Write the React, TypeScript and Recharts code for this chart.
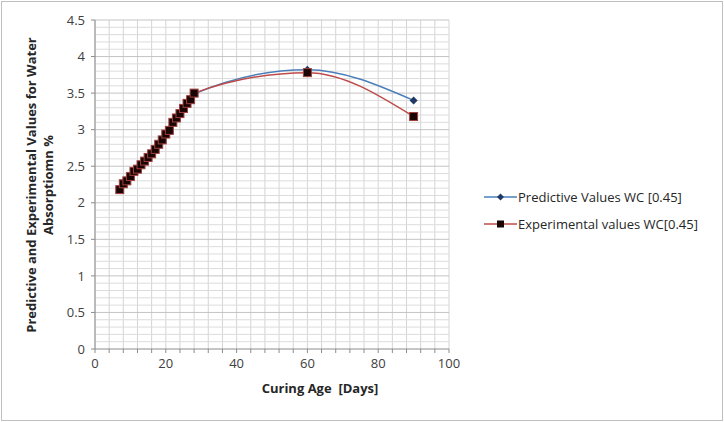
import { LineChart, Line, XAxis, YAxis, CartesianGrid, ReferenceLine, Label } from 'recharts';

const days = [7, 8, 9, 10, 11, 12, 13, 14, 15, 16, 17, 18, 19, 20, 21, 22, 23, 24, 25, 26, 27, 28, 60, 90];
const predictive = [2.18, 2.25, 2.3, 2.36, 2.42, 2.47, 2.52, 2.57, 2.62, 2.68, 2.74, 2.8, 2.86, 2.93, 3.01, 3.09, 3.16, 3.23, 3.3, 3.37, 3.43, 3.49, 3.82, 3.4];
const experimental = [2.18, 2.26, 2.3, 2.36, 2.43, 2.46, 2.52, 2.57, 2.62, 2.67, 2.73, 2.8, 2.86, 2.94, 2.99, 3.1, 3.16, 3.22, 3.29, 3.36, 3.41, 3.5, 3.78, 3.18];

const xTicks = [0, 4, 8, 12, 16, 20, 24, 28, 32, 36, 40, 44, 48, 52, 56, 60, 64, 68, 72, 76, 80, 84, 88, 92, 96, 100];
const yTicks = [0, 0.5, 1, 1.5, 2, 2.5, 3, 3.5, 4, 4.5];
const yMinor = [0.1, 0.2, 0.3, 0.4, 0.6, 0.7, 0.8, 0.9, 1.1, 1.2, 1.3, 1.4, 1.6, 1.7, 1.8, 1.9, 2.1, 2.2, 2.3, 2.4, 2.6, 2.7, 2.8, 2.9, 3.1, 3.2, 3.3, 3.4, 3.6, 3.7, 3.8, 3.9, 4.1, 4.2, 4.3, 4.4];

const seriesNames = ['Predictive Values WC [0.45]', 'Experimental values WC[0.45]'];

const data = days.map((d, i) => ({ day: d, predictive: predictive[i], experimental: experimental[i] }));

const font = '"Open Sans", sans-serif';

const Diamond = (props: any) => {
    const { cx, cy } = props;
    if (cx == null || cy == null) return null;
    return <path d={`M${cx} ${cy - 4} L${cx + 4} ${cy} L${cx} ${cy + 4} L${cx - 4} ${cy} Z`} fill="#1F3864" />;
};

const Square = (props: any) => {
    const { cx, cy } = props;
    if (cx == null || cy == null) return null;
    return <rect x={cx - 4} y={cy - 4} width={8} height={8} fill="#1a0505" stroke="#A0403D" strokeWidth={1} />;
};

const YTitle = () => (
    <g>
        <text x={36} y={185} transform="rotate(-90 36 185)" textAnchor="middle" fontFamily={font} fontWeight="bold" fontSize={13} fill="#262626">
            Predictive and Experimental Values for Water
        </text>
        <text x={53} y={185} transform="rotate(-90 53 185)" textAnchor="middle" fontFamily={font} fontWeight="bold" fontSize={13} fill="#262626">
            Absorptiomn %
        </text>
    </g>
);

const LegendBox = () => (
    <div style={{ position: 'absolute', left: 484, top: 183, fontFamily: font, fontSize: 13, color: '#262626' }}>
        {seriesNames.map((name, i) => (
            <div key={name} style={{ display: 'flex', alignItems: 'center', height: 27 }}>
                <svg width={33} height={10}>
                    <line x1={0} y1={5} x2={33} y2={5} stroke={i === 0 ? '#4A7EBB' : '#BE4B48'} strokeWidth={1.5} />
                    {i === 0 ? (
                        <path d="M16.5 1.5 L20 5 L16.5 8.5 L13 5 Z" fill="#1F3864" />
                    ) : (
                        <rect x={13} y={1.5} width={7} height={7} fill="#1a0505" />
                    )}
                </svg>
                <span style={{ marginLeft: 1 }}>{name}</span>
            </div>
        ))}
    </div>
);

export default function App() {
    return (
        <div style={{ position: 'absolute', left: 0, top: 0, width: 724, height: 422, background: 'white' }}>
            <div style={{ position: 'absolute', left: 1, top: 1, width: 720, height: 418, border: '1px solid #bfbfbf' }} />
            <LineChart width={724} height={422} data={data} margin={{ top: 20, right: 275, bottom: 0, left: 0 }}>
                <CartesianGrid horizontal={false} stroke="#d4d4d4" />
                {yMinor.map((v) => (
                    <ReferenceLine key={v} y={v} stroke="#dcdcdc" strokeWidth={1} />
                ))}
                {yTicks.slice(1).map((v) => (
                    <ReferenceLine key={'m' + v} y={v} stroke="#c4c4c4" strokeWidth={1} />
                ))}
                <XAxis
                    dataKey="day"
                    type="number"
                    domain={[0, 100]}
                    ticks={xTicks}
                    interval={0}
                    height={73}
                    tickFormatter={(v: number) => (v % 20 === 0 ? String(v) : '')}
                    tick={{ fontFamily: font, fontSize: 13, fill: '#404040' }}
                    stroke="#8c8c8c"
                    tickSize={4}
                    tickMargin={6}
                >
                    <Label
                        value={'Curing Age\u00a0\u00a0[Days]'}
                        position="insideTop"
                        offset={35}
                        dx={48}
                        style={{ fontFamily: font, fontSize: 13, fontWeight: 'bold', fill: '#262626' }}
                    />
                </XAxis>
                <YAxis
                    type="number"
                    domain={[0, 4.5]}
                    ticks={yTicks}
                    interval={0}
                    width={95}
                    tick={{ fontFamily: font, fontSize: 13, fill: '#404040' }}
                    stroke="#8c8c8c"
                    tickSize={4}
                    tickMargin={6}
                    label={<YTitle />}
                />
                <Line
                    type="monotone"
                    dataKey="predictive"
                    name={seriesNames[0]}
                    stroke="#4A7EBB"
                    strokeWidth={1.5}
                    dot={<Diamond />}
                    isAnimationActive={false}
                />
                <Line
                    type="monotone"
                    dataKey="experimental"
                    name={seriesNames[1]}
                    stroke="#BE4B48"
                    strokeWidth={1.5}
                    dot={<Square />}
                    isAnimationActive={false}
                />
            </LineChart>
            <LegendBox />
        </div>
    );
}
